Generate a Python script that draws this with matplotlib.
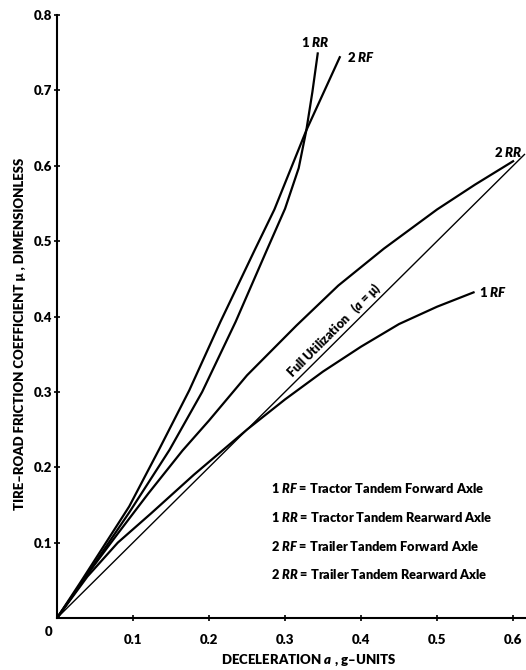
import matplotlib
matplotlib.use("Agg")
import matplotlib.pyplot as plt

# curves (deceleration a, friction mu)
a_1rr = [0.0, 0.03, 0.06, 0.095, 0.148, 0.191, 0.235, 0.276, 0.300, 0.318, 0.328, 0.336, 0.343]
mu_1rr = [0.0, 0.043, 0.088, 0.140, 0.223, 0.300, 0.393, 0.488, 0.543, 0.597, 0.647, 0.698, 0.749]

a_2rf = [0.0, 0.03, 0.06, 0.095, 0.135, 0.174, 0.215, 0.260, 0.286, 0.328, 0.372]
mu_2rf = [0.0, 0.046, 0.093, 0.148, 0.225, 0.302, 0.393, 0.488, 0.542, 0.647, 0.744]

a_2rr = [0.0, 0.04, 0.08, 0.12, 0.165, 0.20, 0.25, 0.315, 0.37, 0.43, 0.50, 0.55, 0.600]
mu_2rr = [0.0, 0.058, 0.112, 0.165, 0.222, 0.262, 0.322, 0.388, 0.441, 0.490, 0.542, 0.575, 0.606]

a_1rf = [0.0, 0.04, 0.08, 0.124, 0.18, 0.25, 0.30, 0.35, 0.40, 0.45, 0.50, 0.548]
mu_1rf = [0.0, 0.055, 0.100, 0.139, 0.190, 0.250, 0.290, 0.327, 0.360, 0.390, 0.413, 0.432]

a_full = [0.0, 0.615]
mu_full = [0.0, 0.615]

x_ticks = [0.1, 0.2, 0.3, 0.4, 0.5, 0.6]
y_ticks = [0.1, 0.2, 0.3, 0.4, 0.5, 0.6, 0.7, 0.8]

legend_rows = [
    ("1", "RF", "= Tractor Tandem Forward Axle"),
    ("1", "RR", "= Tractor Tandem Rearward Axle"),
    ("2", "RF", "= Trailer Tandem Forward Axle"),
    ("2", "RR", "= Trailer Tandem Rearward Axle"),
]

fam = ["Lato", "DejaVu Sans"]
plt.rcParams["font.family"] = fam
plt.rcParams["font.weight"] = "heavy"
plt.rcParams["mathtext.fontset"] = "custom"
plt.rcParams["mathtext.it"] = "Lato:italic:heavy"
plt.rcParams["mathtext.rm"] = "Lato:heavy"

fig = plt.figure(figsize=(5.26, 6.70), dpi=100)
ax = fig.add_axes([57 / 526, 1 - 618 / 670, 469 / 526, 603 / 670])

ax.plot(a_1rr, mu_1rr, color="black", lw=1.6)
ax.plot(a_2rf, mu_2rf, color="black", lw=1.6)
ax.plot(a_2rr, mu_2rr, color="black", lw=1.6)
ax.plot(a_1rf, mu_1rf, color="black", lw=1.6)
ax.plot(a_full, mu_full, color="black", lw=1.0)

ax.set_xlim(0, 0.617)
ax.set_ylim(0, 0.8)
ax.spines["top"].set_visible(False)
ax.spines["right"].set_visible(False)
ax.spines["left"].set_linewidth(1.5)
ax.spines["bottom"].set_linewidth(1.5)
ax.set_xticks(x_ticks)
ax.set_yticks(y_ticks)
ax.set_xticklabels([f"{t:.1f}" for t in x_ticks], fontweight="heavy")
ax.set_yticklabels([f"{t:.1f}" for t in y_ticks], fontweight="heavy")
ax.tick_params(direction="inout", length=5, width=1.2, labelsize=9.5)
ax.tick_params(axis="x", pad=9)
ax.tick_params(axis="y", pad=1)
ax.text(-0.011, -0.018, "0", fontsize=9.5, fontweight="heavy", ha="center", va="center")

# curve labels
ax.text(0.34, 0.764, "1 $RR$", fontsize=9.5, fontweight="heavy", ha="center", va="center")
ax.text(0.40, 0.744, "2 $RF$", fontsize=9.5, fontweight="heavy", ha="center", va="center")
ax.text(0.594, 0.618, "2 $RR$", fontsize=9.5, fontweight="heavy", ha="center", va="center")
ax.text(0.574, 0.432, "1 $RF$", fontsize=9.5, fontweight="heavy", ha="center", va="center")
ax.text(0.364, 0.382, "Full Utilization   ($a$ = \u03bc)", fontsize=9, fontweight="heavy",
        rotation=45, rotation_mode="anchor", ha="center", va="center")

# key
for i, (num, code, desc) in enumerate(legend_rows):
    ax.text(0.282, 0.172 - i * 0.038, f"{num} ${code}$ {desc}", fontsize=9.2,
            fontweight="heavy", ha="left", va="center")

fig.text(309 / 526, 1 - 660 / 670, "DECELERATION $a$ , g\u2013UNITS",
         fontsize=9.5, fontweight="heavy", ha="center", va="center")
fig.text(20 / 526, 1 - 334 / 670, "TIRE\u2013ROAD FRICTION COEFFICIENT \u03bc , DIMENSIONLESS",
         fontsize=9.5, fontweight="heavy", rotation=90, ha="center", va="center")

fig.savefig("out.png", dpi=100)
